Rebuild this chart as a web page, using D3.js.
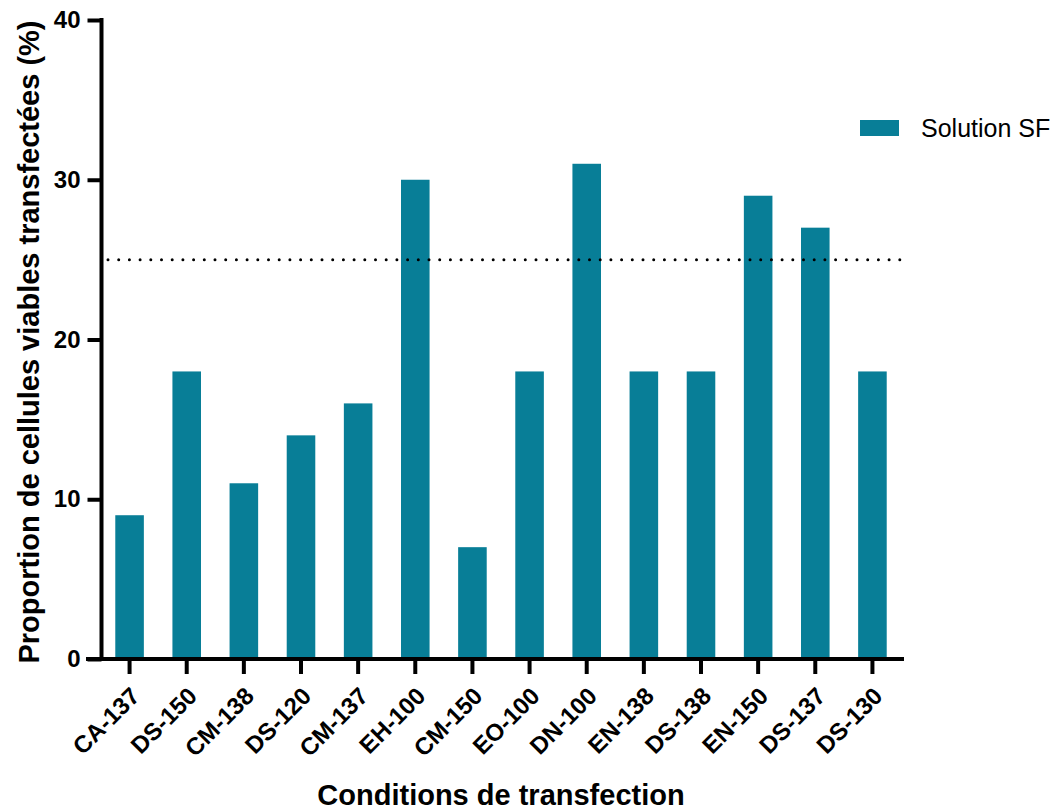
<!DOCTYPE html>
<html>
<head>
<meta charset="utf-8">
<script src="https://cdn.jsdelivr.net/npm/d3@7.9.0/dist/d3.min.js"></script>
<style>
    body { margin: 0; background: #fff; }
    svg { font-family: "Liberation Sans", Arial, sans-serif; }
</style>
</head>
<body>
<svg width="1058" height="810"></svg>
<script>
const conditions = ["CA-137", "DS-150", "CM-138", "DS-120", "CM-137", "EH-100", "CM-150",
    "EO-100", "DN-100", "EN-138", "DS-138", "EN-150", "DS-137", "DS-130"];
const solutionSF = [9, 18, 11, 14, 16, 30, 7, 18, 31, 18, 18, 29, 27, 18];
const yTicks = [0, 10, 20, 30, 40];
const threshold = 25;
const seriesName = "Solution SF";

const color = "#087e97";
const svg = d3.select("svg");

const x = d3.scaleBand().domain(conditions).range([101, 901])
    .paddingInner(0.5).paddingOuter(0.25);
const y = d3.scaleLinear().domain([0, 40]).range([659, 20]);

// bars
svg.selectAll("rect.bar")
    .data(conditions)
    .enter()
    .append("rect")
    .attr("class", "bar")
    .attr("x", (d) => x(d))
    .attr("width", x.bandwidth())
    .attr("y", (d, i) => y(solutionSF[i]))
    .attr("height", (d, i) => y(0) - y(solutionSF[i]))
    .attr("fill", color);

// dotted threshold line
svg.append("line")
    .attr("x1", 108).attr("x2", 901)
    .attr("y1", y(threshold)).attr("y2", y(threshold))
    .attr("stroke", "#000")
    .attr("stroke-width", 3)
    .attr("stroke-linecap", "round")
    .attr("stroke-dasharray", "0 10.7");

// y axis
const yAxis = svg.append("g")
    .attr("transform", "translate(101.5,0)")
    .call(d3.axisLeft(y).tickValues(yTicks).tickSize(14).tickPadding(7));
yAxis.select(".domain").remove();
yAxis.selectAll(".tick line").attr("stroke", "#000").attr("stroke-width", 4);
yAxis.selectAll(".tick text")
    .attr("fill", "#000")
    .style("font-size", "24px")
    .style("font-weight", "bold");
svg.append("line")
    .attr("x1", 101.5).attr("x2", 101.5)
    .attr("y1", 18).attr("y2", 661)
    .attr("stroke", "#000").attr("stroke-width", 4);

// x axis
const xAxis = svg.append("g")
    .attr("transform", "translate(0,659)")
    .call(d3.axisBottom(x).tickSize(15).tickPadding(0));
xAxis.select(".domain").remove();
xAxis.selectAll(".tick line").attr("stroke", "#000").attr("stroke-width", 4);
xAxis.selectAll(".tick text")
    .attr("fill", "#000")
    .attr("text-anchor", "end")
    .attr("dy", null)
    .attr("transform", "translate(1,28) rotate(-45)")
    .style("font-size", "24px")
    .style("font-weight", "bold");
svg.append("line")
    .attr("x1", 86).attr("x2", 904)
    .attr("y1", 659).attr("y2", 659)
    .attr("stroke", "#000").attr("stroke-width", 4);

// axis titles
svg.append("text")
    .attr("transform", "translate(39,342) rotate(-90)")
    .attr("text-anchor", "middle")
    .style("font-size", "29px")
    .style("font-weight", "bold")
    .text("Proportion de cellules viables transfectées (%)");

svg.append("text")
    .attr("x", 501).attr("y", 805)
    .attr("text-anchor", "middle")
    .style("font-size", "29px")
    .style("font-weight", "bold")
    .text("Conditions de transfection");

// legend
svg.append("rect")
    .attr("x", 860).attr("y", 120)
    .attr("width", 39).attr("height", 16)
    .attr("fill", color);
svg.append("text")
    .attr("x", 921).attr("y", 137)
    .style("font-size", "25px")
    .text(seriesName);
</script>
</body>
</html>
